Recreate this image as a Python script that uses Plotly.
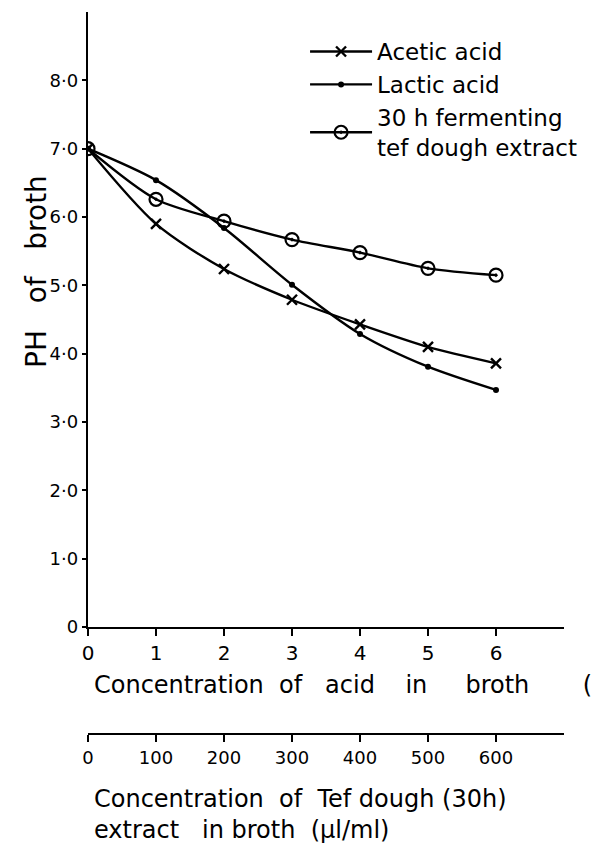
import plotly.graph_objects as go

# Acid concentration (bottom scale 0-6) and tef dough extract (µl/ml, second scale)
acid_conc = [0, 1, 2, 3, 4, 5, 6]
acetic_ph = [7.0, 5.9, 5.24, 4.79, 4.43, 4.1, 3.86]
lactic_ph = [7.0, 6.54, 5.84, 5.01, 4.29, 3.81, 3.47]

tef_conc = [0, 100, 200, 300, 400, 500, 600]
tef_ph = [7.0, 6.26, 5.94, 5.67, 5.48, 5.25, 5.15]

y_ticks = [0, 1, 2, 3, 4, 5, 6, 7, 8]
y_ticktext = ["0", "1·0", "2·0", "3·0", "4·0", "5·0", "6·0", "7·0", "8·0"]
acid_ticks = [0, 1, 2, 3, 4, 5, 6]
tef_ticks = [0, 100, 200, 300, 400, 500, 600]

FONT = "DejaVu Sans"
INK = "black"
NB = "\u00a0"


def gap(n):
    return NB * n


fig = go.Figure()

fig.add_trace(go.Scatter(
    x=acid_conc, y=acetic_ph, name="Acetic acid", mode="lines+markers",
    line=dict(color=INK, width=2.4, shape="spline", smoothing=0.8),
    marker=dict(symbol="x-thin", size=10, line=dict(color=INK, width=2.4)),
    xaxis="x", yaxis="y",
))
fig.add_trace(go.Scatter(
    x=acid_conc, y=lactic_ph, name="Lactic acid", mode="lines+markers",
    line=dict(color=INK, width=2.4, shape="spline", smoothing=0.8),
    marker=dict(symbol="circle", size=6, color=INK),
    xaxis="x", yaxis="y",
))
fig.add_trace(go.Scatter(
    x=tef_conc, y=tef_ph, name="30 h fermenting<br>tef dough extract",
    mode="lines+markers",
    line=dict(color=INK, width=2.4, shape="spline", smoothing=0.8),
    marker=dict(symbol="circle-open-dot", size=13, color=INK,
                line=dict(color=INK, width=2.2)),
    xaxis="x2", yaxis="y",
))

axis_common = dict(
    showline=True, linecolor=INK, linewidth=2.4,
    ticks="outside", tickcolor=INK, tickwidth=2,
    showgrid=False, zeroline=False,
)

fig.update_layout(
    width=602, height=854,
    margin=dict(l=88, r=38, t=12, b=120),
    paper_bgcolor="white", plot_bgcolor="white",
    font=dict(family=FONT, color=INK),
    xaxis=dict(
        range=[0, 7], anchor="y", tickvals=acid_ticks, ticklen=7,
        tickfont=dict(size=20), **axis_common,
    ),
    xaxis2=dict(
        range=[0, 700], overlaying="x", anchor="free", position=0,
        side="bottom", tickvals=tef_ticks, ticklen=7,
        tickfont=dict(size=18), **axis_common,
    ),
    yaxis=dict(
        range=[0, 9], domain=[0.148, 1], anchor="x",
        tickvals=y_ticks, ticktext=y_ticktext, ticklen=4,
        tickfont=dict(size=18), **axis_common,
    ),
    legend=dict(
        x=0.456, y=0.975, xanchor="left", yanchor="top",
        font=dict(size=23, family=FONT), bgcolor="rgba(0,0,0,0)",
        itemwidth=62, tracegroupgap=2,
    ),
    showlegend=True,
)

fig.add_annotation(
    text=f"PH{gap(3)}of{gap(3)}broth", textangle=-90,
    xref="paper", yref="paper", x=-0.107, y=0.64,
    xanchor="center", yanchor="middle", showarrow=False,
    font=dict(size=28, family=FONT),
)
fig.add_annotation(
    text=(f"Concentration{gap(2)}of{gap(3)}acid{gap(4)}in"
          f"{gap(5)}broth{gap(7)}("),
    xref="paper", yref="paper", x=0.008, y=0.068,
    xanchor="left", yanchor="middle", showarrow=False,
    font=dict(size=24, family=FONT),
)
fig.add_annotation(
    text=(f"Concentration{gap(2)}of{gap(2)}Tef{gap(1)}dough{gap(1)}(30h)<br>"
          f"extract{gap(3)}in{gap(1)}broth{gap(2)}(µl/ml)"),
    xref="paper", yref="paper", x=0.008, y=-0.112,
    xanchor="left", yanchor="middle", align="left", showarrow=False,
    font=dict(size=24, family=FONT),
)

fig.write_html("out.html")
